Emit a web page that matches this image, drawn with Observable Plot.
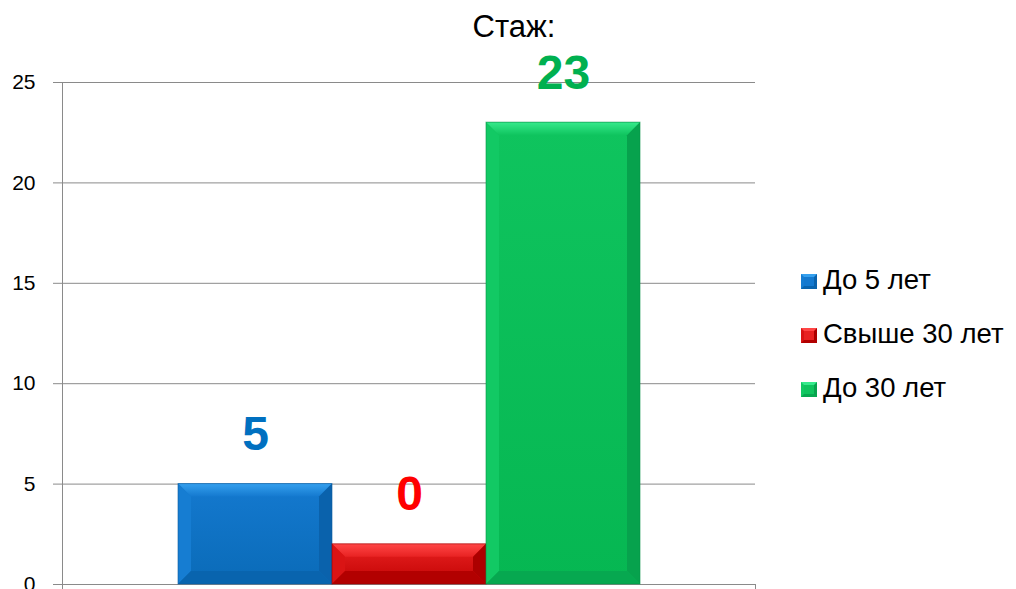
<!DOCTYPE html>
<html>
<head>
<meta charset="utf-8">
<script src="https://cdn.jsdelivr.net/npm/d3@7"></script>
<script src="https://cdn.jsdelivr.net/npm/@observablehq/plot@0.6"></script>
<style>
  html, body { margin: 0; padding: 0; background: #fff; }
  #wrap { position: relative; width: 1016px; height: 589px; font-family: "Liberation Sans", Arial, sans-serif; color: #000; }
  #title { height: 50px; line-height: 50px; padding-top: 2px; box-sizing: border-box; text-align: center; font-size: 31px; padding-left: 12px; }
  #legend { position: absolute; left: 801px; top: 253px; font-size: 27.5px; }
  #legend .row { height: 54px; line-height: 54px; white-space: nowrap; }
  #legend .sw { display: inline-block; width: 10px; height: 9px; border-style: solid; border-width: 3px; margin-right: 6px; vertical-align: baseline; }
  #chart svg { display: block; }
</style>
</head>
<body>
<div id="wrap">
  <div id="title">Стаж:</div>
  <div id="chart"></div>
  <div id="legend"></div>
</div>
<script>
// ---- data ----
const categories = ["До 5 лет", "Свыше 30 лет", "До 30 лет"];
const values = [5, 2, 23];          // bar heights as drawn in the reference
const valueLabels = ["5", "0", "23"]; // data labels as printed
const yTicks = [0, 5, 10, 15, 20, 25];
const titleText = "Стаж:";

// ---- styles (kept separate from data) ----
const labelColors = ["#0070C0", "#FF0000", "#00B050"];
const faceTop = ["#1479cf", "#e82222", "#0fc45e"];
const faceBottom = ["#0a6bb8", "#c20303", "#06b752"];
const bevelTop = ["#35a0ee", "#ff4646", "#36ea8c"];
const bevelLeft = ["#167dd2", "#da1414", "#12c964"];
const bevelRight = ["#0a62ac", "#ac0000", "#07a24d"];
const bevelBottom = ["#0964ae", "#b20000", "#07a850"];
const edgeColors = ["#0b5c9c", "#9a0000", "#079447"];

const data = categories.map((c, i) => ({cat: c, value: values[i], label: valueLabels[i], i}));

const svgns = "http://www.w3.org/2000/svg";

function bevelRender(index, scales, vals, dims, ctx, next) {
  const g = next(index, scales, vals, dims, ctx);
  const rects = Array.from(g.querySelectorAll("rect"));
  rects.forEach((r, k) => {
    const i = data[index[k]].i;
    const x = +r.getAttribute("x"), y = +r.getAttribute("y");
    const w = +r.getAttribute("width"), h = +r.getAttribute("height");
    r.setAttribute("fill", `url(#barGrad${i})`);
    r.setAttribute("stroke", "none");
    const b = Math.min(13, h / 3, w / 3);
    const poly = (pts, fill) => {
      const el = document.createElementNS(svgns, "polygon");
      el.setAttribute("points", pts.map(p => p.join(",")).join(" "));
      el.setAttribute("fill", fill);
      el.setAttribute("stroke", "none");
      g.appendChild(el);
    };
    poly([[x, y], [x + w, y], [x + w - b, y + b], [x + b, y + b]], `url(#topGrad${i})`);
    poly([[x, y], [x + b, y + b], [x + b, y + h - b], [x, y + h]], bevelLeft[i]);
    poly([[x + w, y], [x + w, y + h], [x + w - b, y + h - b], [x + w - b, y + b]], bevelRight[i]);
    poly([[x, y + h], [x + b, y + h - b], [x + w - b, y + h - b], [x + w, y + h]], bevelBottom[i]);
    const out = document.createElementNS(svgns, "rect");
    out.setAttribute("x", x); out.setAttribute("y", y);
    out.setAttribute("width", w); out.setAttribute("height", h);
    out.setAttribute("fill", "none"); out.setAttribute("stroke", edgeColors[i]);
    out.setAttribute("stroke-opacity", 0.6);
    g.appendChild(out);
  });
  return g;
}

const H = 539, MT = 32, MB = 5;
const plot = Plot.plot({
  width: 1016,
  height: H,
  marginTop: MT,
  marginLeft: 62,
  marginRight: 261,
  marginBottom: MB,
  style: {fontFamily: "Liberation Sans, Arial, sans-serif", fontSize: "21px", color: "#000", background: "transparent", overflow: "visible"},
  x: {type: "band", domain: categories, paddingInner: 0, paddingOuter: 0.745, axis: null},
  y: {domain: [0, 25]},
  marks: [
    Plot.gridY(yTicks, {stroke: "#8a8a8a", strokeOpacity: 1, strokeWidth: 1, insetLeft: -9}),
    Plot.axisY(yTicks, {tickSize: 0, tickPadding: 27, label: null, fill: "#000", fontSize: 21}),
    Plot.frame({anchor: "left", stroke: "#8a8a8a", strokeOpacity: 1, insetBottom: -MB}),
    Plot.frame({anchor: "right", stroke: "#8a8a8a", strokeOpacity: 1, insetTop: H - MT - MB, insetBottom: -MB}),
    Plot.barY(data, {x: "cat", y: "value", fill: "#888", inset: 0, render: bevelRender}),
    Plot.text(data, {x: "cat", y: "value", text: "label", fill: d => labelColors[d.i], lineAnchor: "bottom", dy: -34, fontSize: 48, fontWeight: "bold"})
  ]
});

// gradients for the bar faces and top bevels
const defs = document.createElementNS(svgns, "defs");
const addGrad = (id, c1, c2) => {
  const lg = document.createElementNS(svgns, "linearGradient");
  lg.setAttribute("id", id);
  lg.setAttribute("x1", 0); lg.setAttribute("y1", 0); lg.setAttribute("x2", 0); lg.setAttribute("y2", 1);
  [[0, c1], [1, c2]].forEach(([o, col]) => {
    const s = document.createElementNS(svgns, "stop");
    s.setAttribute("offset", o); s.setAttribute("stop-color", col);
    lg.appendChild(s);
  });
  defs.appendChild(lg);
};
categories.forEach((c, i) => {
  addGrad(`barGrad${i}`, faceTop[i], faceBottom[i]);
  addGrad(`topGrad${i}`, bevelTop[i], faceTop[i]);
});
plot.insertBefore(defs, plot.firstChild);
document.getElementById("chart").appendChild(plot);
document.getElementById("title").textContent = titleText;

// legend
const legend = document.getElementById("legend");
categories.forEach((c, i) => {
  const row = document.createElement("div");
  row.className = "row";
  const sw = document.createElement("span");
  sw.className = "sw";
  sw.style.background = faceTop[i];
  sw.style.borderColor = `${bevelTop[i]} ${bevelRight[i]} ${bevelBottom[i]} ${bevelLeft[i]}`;
  row.appendChild(sw);
  row.appendChild(document.createTextNode(c));
  legend.appendChild(row);
});
</script>
</body>
</html>
